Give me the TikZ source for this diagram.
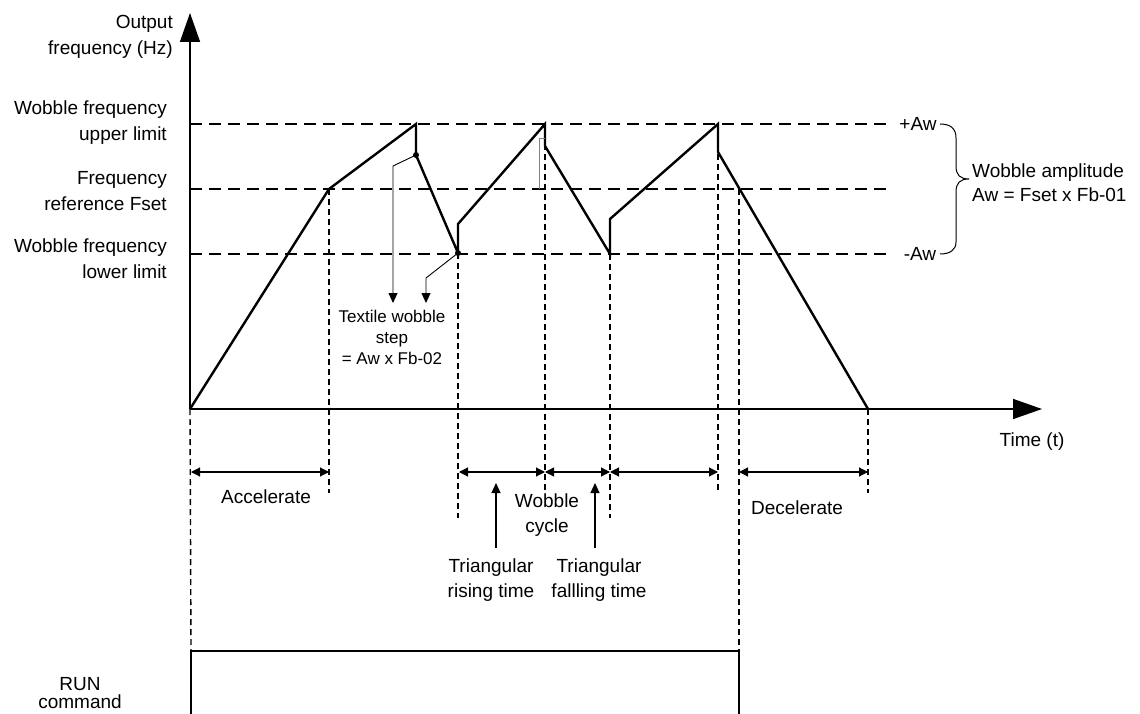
\documentclass[tikz,border=0pt]{standalone}
\usepackage{fontspec}
\setmainfont{Liberation Sans}
\usetikzlibrary{arrows.meta}
\begin{document}
\begin{tikzpicture}[x=1pt,y=-1pt,
  txt/.style={font=\fontsize{19}{26}\selectfont, inner sep=0pt, align=center},
  rtxt/.style={font=\fontsize{19}{26}\selectfont, inner sep=0pt, align=right},
  axis/.style={line width=1.5pt, -{Triangle[length=29pt,width=20pt]}},
  curve/.style={line width=2.4pt, line join=miter},
  hdash/.style={line width=1.5pt, dash pattern=on 12pt off 7pt},
  vdash/.style={line width=1.4pt, dash pattern=on 6pt off 4pt},
  dim/.style={line width=1.1pt, {Triangle[length=9pt,width=9pt]}-{Triangle[length=9pt,width=9pt]}},
  uparr/.style={line width=1.1pt, -{Triangle[length=10pt,width=9pt]}},
  thin/.style={line width=0.9pt},
  dot/.style={circle, fill=black, inner sep=0pt, minimum size=6pt}
]
\useasboundingbox (0,0) rectangle (1140,714);

% key coordinates
\coordinate (O) at (190,409);
\coordinate (ytip) at (190,13);
\coordinate (xtip) at (1042,409);
\coordinate (k1) at (329,189);
\coordinate (p1) at (416,124);
\coordinate (s1) at (416,155);
\coordinate (v1) at (458,253);
\coordinate (r1) at (458,224);
\coordinate (p2) at (545,124);
\coordinate (s2) at (545,146);
\coordinate (v2) at (610,254);
\coordinate (r2) at (610,219);
\coordinate (p3) at (718,124);
\coordinate (s3) at (718,152);
\coordinate (dc) at (739,189);
\coordinate (e) at (868,409);

% horizontal dashed levels
\coordinate (hu0) at (190,124); \coordinate (hu1) at (887,124);
\coordinate (hf0) at (190,189); \coordinate (hf1) at (887,189);
\coordinate (hl0) at (190,254); \coordinate (hl1) at (887,254);
\draw[hdash] (hu0) -- (hu1);
\draw[hdash] (hf0) -- (hf1);
\draw[hdash] (hl0) -- (hl1);

% vertical dashed
\coordinate (vk1) at (329,493);
\coordinate (vv1) at (458,518);
\coordinate (vp2) at (545,492);
\coordinate (vv2) at (610,518);
\coordinate (vp3) at (718,492);
\coordinate (vdc) at (739,651);
\coordinate (ve) at (868,493);
\coordinate (vO) at (191,651);
\draw[vdash] (k1) -- (vk1);
\draw[vdash] (v1) -- (vv1);
\draw[vdash] (p2) -- (vp2);
\draw[vdash] (v2) -- (vv2);
\draw[vdash] (p3) -- (vp3);
\draw[vdash] (dc) -- (vdc);
\draw[vdash] (e) -- (ve);
\draw[vdash] (O) -- (vO);

% axes
\draw[axis] (O) -- (ytip);
\draw[axis] (O) -- (xtip);

% frequency curve
\draw[curve] (O) -- (k1) -- (p1) -- (s1) -- (v1) -- (r1) -- (p2) -- (s2) -- (v2) -- (r2) -- (p3) -- (s3) -- (e);

% small grey step marker
\coordinate (g0) at (545,138); \coordinate (g1) at (539,138); \coordinate (g2) at (539,189);
\draw[gray, line width=0.9pt] (g0) -- (g1) -- (g2);

% dots
\node[dot] (d1) at (s1) {};
\node[dot] (d2) at (v1) {};

% textile wobble step arrows
\coordinate (a1) at (393,166); \coordinate (a1t) at (393,303);
\coordinate (a2) at (426,278); \coordinate (a2t) at (426,303);
\draw[thin, -{Triangle[length=10pt,width=9pt]}] (d1.center) -- (a1) -- (a1t);
\draw[thin, -{Triangle[length=10pt,width=9pt]}] (d2.center) -- (a2) -- (a2t);
\node[txt, font=\fontsize{17}{21}\selectfont] (step) at (392,337) {Textile wobble\\step\\= Aw x Fb-02};

% dimension arrows
\coordinate (da0) at (191,472); \coordinate (da1) at (329,472);
\coordinate (dr0) at (459,472); \coordinate (dr1) at (545,472);
\coordinate (df1) at (610,472);
\coordinate (dn1) at (718,472);
\coordinate (dd0) at (739,472); \coordinate (dd1) at (868,472);
\draw[dim] (da0) -- (da1);
\draw[dim] (dr0) -- (dr1);
\draw[dim] (dr1) -- (df1);
\draw[dim] (df1) -- (dn1);
\draw[dim] (dd0) -- (dd1);

% up arrows
\coordinate (u1a) at (496,548); \coordinate (u1b) at (496,483);
\coordinate (u2a) at (595,548); \coordinate (u2b) at (595,483);
\draw[uparr] (u1a) -- (u1b);
\draw[uparr] (u2a) -- (u2b);

% RUN command
\coordinate (rb0) at (191,716); \coordinate (rb1) at (191,651);
\coordinate (rb2) at (739,651); \coordinate (rb3) at (739,716);
\draw[line width=2pt] (rb0) -- (rb1) -- (rb2) -- (rb3);
\node[txt, font=\fontsize{19}{18}\selectfont] (run) at (80,693) {RUN\\command};

% brace
\coordinate (b0) at (940,124); \coordinate (bt) at (969,179); \coordinate (b1) at (940,254);
\draw[line width=1pt] (b0) .. controls (950,124) and (956,128) .. (956,138) -- (956,166)
  .. controls (956,175) and (960,179) .. (bt)
  .. controls (960,179) and (956,183) .. (956,192) -- (956,242)
  .. controls (956,250) and (950,254) .. (b1);

% labels
\node[rtxt, anchor=east] (lout) at (173,37) {Output\\frequency (Hz)};
\node[rtxt, anchor=east] (lup) at (167,123) {Wobble frequency\\upper limit};
\node[rtxt, anchor=east] (lfs) at (167,191) {Frequency\\reference Fset};
\node[rtxt, anchor=east] (llo) at (167,259) {Wobble frequency\\lower limit};
\node[txt] (paw) at (918,124) {+Aw};
\node[txt] (maw) at (920,254) {-Aw};
\node[txt, align=left, anchor=west, font=\fontsize{19}{24}\selectfont] (amp) at (972,183) {Wobble amplitude\\Aw = Fset x Fb-01};
\node[txt] (time) at (1032,442) {Time (t)};
\node[txt] (acc) at (266,497) {Accelerate};
\node[txt] (dec) at (797,508) {Decelerate};
\node[txt, font=\fontsize{19}{25}\selectfont] (wc) at (547,515) {Wobble\\cycle};
\node[txt, font=\fontsize{19}{25}\selectfont] (tr) at (491,580) {Triangular\\rising time};
\node[txt, font=\fontsize{19}{25}\selectfont] (tf) at (599,580) {Triangular\\fallling time};
\end{tikzpicture}
\end{document}
